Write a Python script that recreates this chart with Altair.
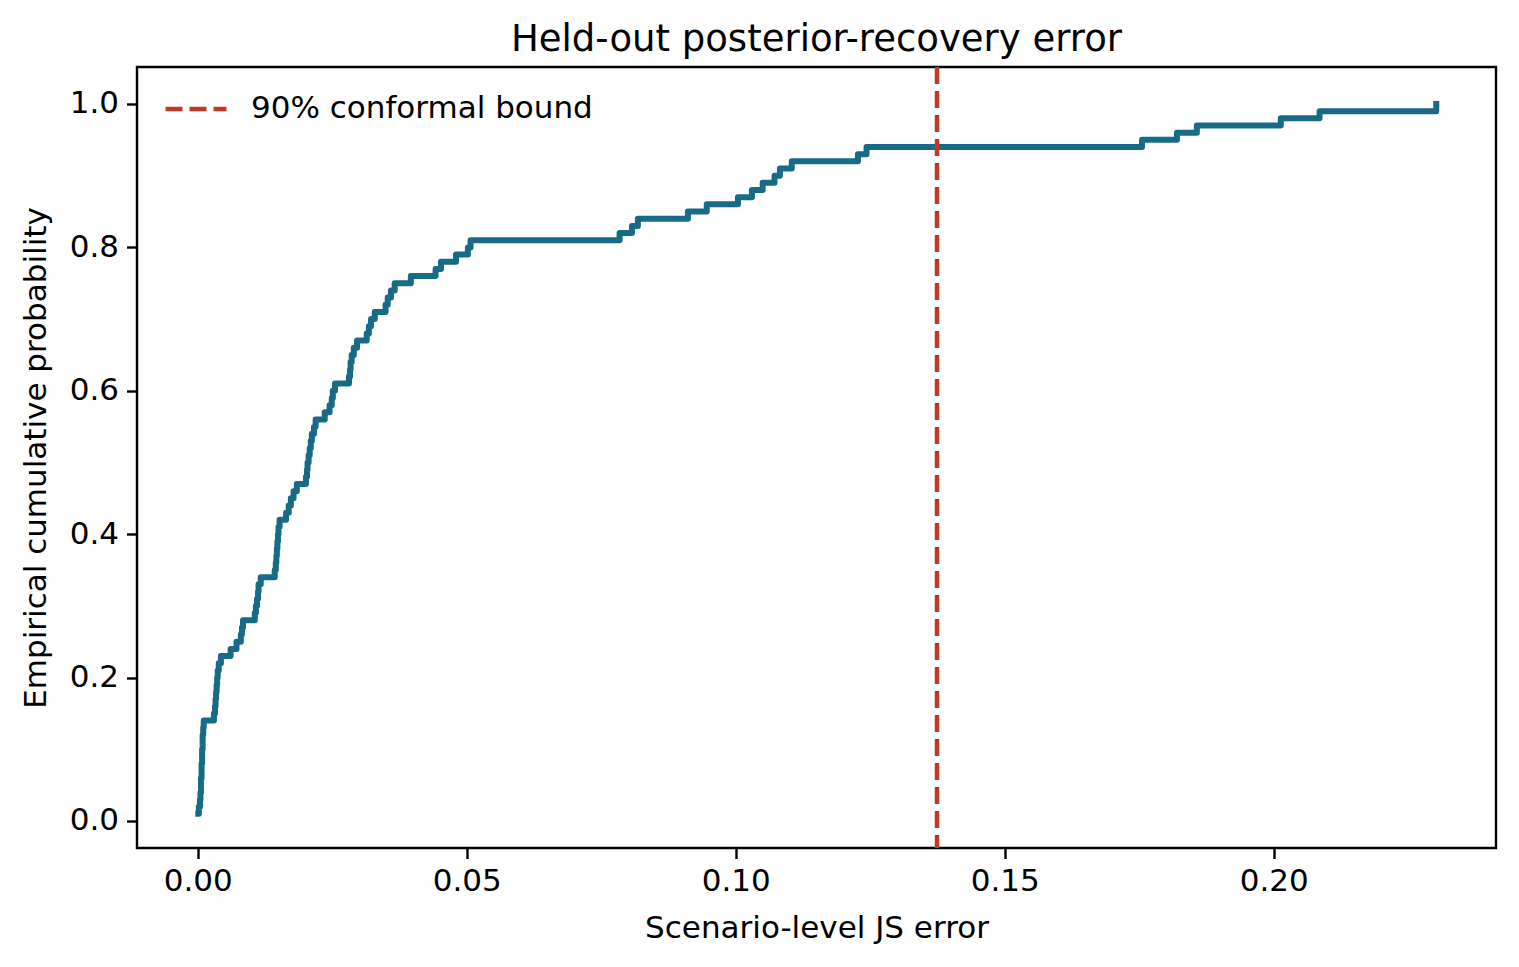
import altair as alt
import pandas as pd

# Scenario-level JS errors (sorted)
js_error = [
    0.0001, 0.0002, 0.0004, 0.0005, 0.0006, 0.0006, 0.0007, 0.0007, 0.0008, 0.0008,
    0.0009, 0.0009, 0.0010, 0.0011, 0.0030, 0.0032, 0.0033, 0.0034, 0.0035, 0.0036,
    0.0037, 0.0039, 0.0043, 0.0061, 0.0072, 0.0080, 0.0082, 0.0084, 0.0106, 0.0108,
    0.0110, 0.0112, 0.0113, 0.0117, 0.0143, 0.0145, 0.0146, 0.0147, 0.0148, 0.0149,
    0.0150, 0.0152, 0.0164, 0.0169, 0.0173, 0.0178, 0.0184, 0.0201, 0.0203, 0.0204,
    0.0206, 0.0208, 0.0210, 0.0212, 0.0216, 0.0219, 0.0236, 0.0245, 0.0249, 0.0251,
    0.0255, 0.0281, 0.0283, 0.0284, 0.0286, 0.0290, 0.0296, 0.0314, 0.0318, 0.0322,
    0.0329, 0.0349, 0.0353, 0.0359, 0.0366, 0.0396, 0.0442, 0.0452, 0.0480, 0.0502,
    0.0507, 0.0784, 0.0807, 0.0818, 0.0911, 0.0946, 0.1004, 0.1030, 0.1050, 0.1072,
    0.1082, 0.1104, 0.1227, 0.1243, 0.1755, 0.1820, 0.1857, 0.2013, 0.2085, 0.2302,
]
bound_value = [0.1374]
bound_label = ["90% conformal bound"]
x_ticks = [0.00, 0.05, 0.10, 0.15, 0.20]
y_ticks = [0.0, 0.2, 0.4, 0.6, 0.8, 1.0]

curve_color = "#176b87"
bound_color = "#c0392b"
FONT = "DejaVu Sans"

df = pd.DataFrame({"err": js_error})
bound_df = pd.DataFrame({"x": bound_value, "label": bound_label})

x_scale = alt.Scale(domain=[-0.0113, 0.2413], nice=False, zero=False)
y_scale = alt.Scale(domain=[-0.0377, 1.0516], nice=False, zero=False)

curve = (
    alt.Chart(df)
    .transform_window(rank="count()", sort=[alt.SortField("err")])
    .transform_joinaggregate(total="count()")
    .transform_calculate(cdf="datum.rank / datum.total")
    .mark_line(interpolate="step-after", color=curve_color, strokeWidth=6,
               strokeJoin="round", strokeCap="square")
    .encode(
        x=alt.X("err:Q", scale=x_scale,
                axis=alt.Axis(title="Scenario-level JS error", values=x_ticks, format=".2f")),
        y=alt.Y("cdf:Q", scale=y_scale,
                axis=alt.Axis(title="Empirical cumulative probability", values=y_ticks, format=".1f")),
        order=alt.Order("err:Q"),
    )
)

bound = (
    alt.Chart(bound_df)
    .mark_rule(strokeWidth=4.5, strokeDash=[17, 7])
    .encode(
        x=alt.X("x:Q", scale=x_scale),
        color=alt.Color(
            "label:N",
            scale=alt.Scale(domain=bound_label, range=[bound_color]),
            legend=alt.Legend(
                title=None, orient="none", legendX=26, legendY=9,
                symbolType="stroke", symbolSize=3721, symbolStrokeWidth=4.5,
                symbolDash=[17, 7], labelFontSize=31, labelFont=FONT,
                labelColor="black", labelOffset=22, labelLimit=0, padding=0,
            ),
        ),
    )
)

chart = (
    alt.layer(curve, bound)
    .properties(
        width=1359, height=781,
        title=alt.TitleParams("Held-out posterior-recovery error", fontSize=37,
                              font=FONT, fontWeight="normal", color="black", offset=6),
        autosize=alt.AutoSizeParams(type="none"),
        padding={"left": 137, "top": 67, "right": 23, "bottom": 119},
    )
    .configure_view(stroke="black", strokeWidth=2.4)
    .configure_axis(
        domain=False, grid=False, tickSize=10.5, tickWidth=2.4, tickColor="black",
        labelFontSize=31, labelFont=FONT, labelColor="black", labelPadding=8,
        titleFontSize=31, titleFont=FONT, titleFontWeight="normal", titleColor="black",
    )
    .configure_axisX(titlePadding=17)
    .configure_axisY(titlePadding=17)
)

chart.save("out.html", embed_options={"renderer": "svg", "actions": False})
